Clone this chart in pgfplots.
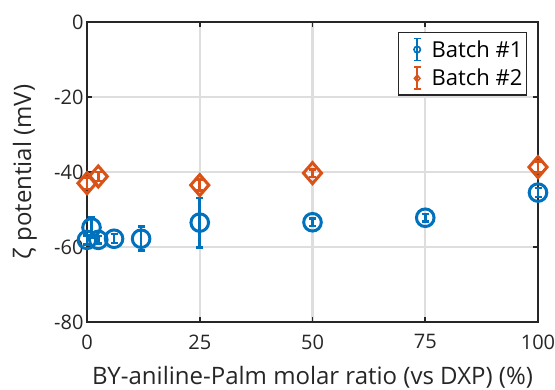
\documentclass[border=0pt]{standalone}
\usepackage{pgfplots}
\pgfplotsset{compat=1.18}
\usepackage{fontspec}
\setmainfont{Open Sans}

\definecolor{mblue}{RGB}{0,114,189}
\definecolor{morange}{RGB}{217,83,25}
\definecolor{axgray}{RGB}{38,38,38}
\definecolor{gridgray}{RGB}{222,222,222}

\pgfplotstableread{
x     y      e
0     -58.1  1.2
1     -54.8  2.8
2.5   -58.1  1.0
6     -57.8  1.2
12    -57.8  3.2
25    -53.5  6.6
50    -53.4  1.0
75    -52.2  1.0
100   -45.5  1.2
}\batchone

\pgfplotstableread{
x     y      e
0     -43.0  1.5
2.5   -41.2  1.2
25    -43.5  1.5
50    -40.3  1.0
100   -38.7  1.5
}\batchtwo

\newcommand{\tickfont}{\fontsize{20}{24}\selectfont}
\newcommand{\labfont}{\fontsize{24}{28}\selectfont}
\newcommand{\legfont}{\fontsize{22}{26}\selectfont}

\begin{document}
\begin{tikzpicture}
\begin{axis}[
  at={(0,0)}, anchor=south west,
  scale only axis, width=451pt, height=300pt,
  xmin=0, xmax=100, ymin=-80, ymax=0,
  xtick={0,25,50,75,100},
  ytick={-80,-60,-40,-20,0},
  yticklabels={-80,-60,-40,-20,0},
  xticklabels={0,25,50,75,100},
  grid=major,
  grid style={line width=2.2pt, color=gridgray},
  axis line style={line width=1.8pt, color=axgray},
  tick style={line width=1.8pt, color=axgray},
  tick align=inside, major tick length=5pt,
  clip=false,
  tick label style={font=\tickfont, text=axgray},
  xticklabel style={yshift=-9pt},
  xlabel={BY-aniline-Palm molar ratio (vs DXP) (\%)},
  ylabel={ζ potential (mV)},
  every axis x label/.style={at={(axis description cs:0.5,-0.21)}, anchor=base,
    font=\labfont, text=axgray},
  every axis y label/.style={at={(axis description cs:-0.1375,0.5)}, rotate=90,
    anchor=center, font=\labfont, text=axgray},
  legend cell align=left,
  legend style={
    at={(axis description cs:0.976,0.967)}, anchor=north east,
    draw=axgray, line width=1.5pt, fill=white,
    font=\legfont, text=black,
    row sep=5pt, inner xsep=2pt, inner ysep=5pt,
  },
  legend image code/.code={
    \path (0pt,0pt) (26pt,0pt);
    \draw[#1, mark=none, line width=1.8pt]
      (15pt,-11pt) -- (15pt,11pt)
      (11.5pt,-11pt) -- (18.5pt,-11pt)
      (11.5pt,11pt) -- (18.5pt,11pt);
    \draw[#1, line width=1.6pt, mark size=3.2pt] plot coordinates {(15pt,0pt)};
  },
]
\addplot[
  color=mblue, only marks, mark=o, mark size=8.8pt, line width=3pt,
  error bars/.cd, y dir=both, y explicit,
  error bar style={line width=2.5pt, color=mblue},
  error mark options={line width=2.5pt, mark size=3.5pt, rotate=90},
] table[x=x, y=y, y error=e] {\batchone};
\addlegendentry{Batch \#1}

\addplot[
  color=morange, only marks, mark=diamond, mark size=10.5pt, line width=3pt,
  mark options={xscale=1.15},
  error bars/.cd, y dir=both, y explicit,
  error bar style={line width=2.5pt, color=morange},
  error mark options={line width=2.5pt, mark size=3.5pt, rotate=90},
] table[x=x, y=y, y error=e] {\batchtwo};
\addlegendentry{Batch \#2}
\end{axis}
\pgfresetboundingbox
\path[use as bounding box] (-87pt,-68pt) rectangle (468pt,322pt);
\end{tikzpicture}
\end{document}
